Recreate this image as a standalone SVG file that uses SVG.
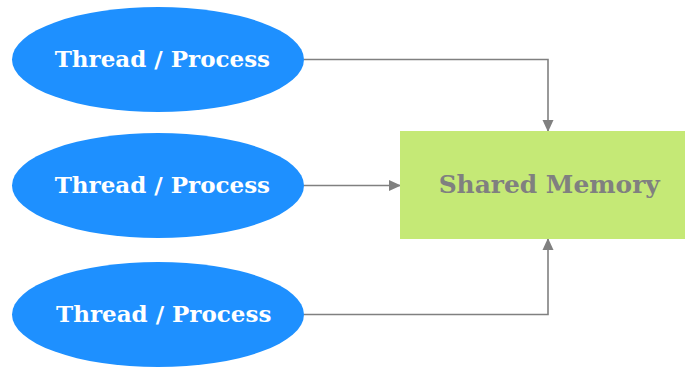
<svg xmlns="http://www.w3.org/2000/svg" width="685" height="367" viewBox="0 0 685 367">
<style>
.proc{fill:#1e90ff}
.pt{fill:#ffffff;font-family:"DejaVu Serif",serif;font-weight:bold;font-size:23px;text-anchor:middle}
.mem{fill:#c5e976}
.mt{fill:#808080;font-family:"DejaVu Serif",serif;font-weight:bold;font-size:24.9px;text-anchor:middle}
.edge{fill:none;stroke:#808080;stroke-width:1.6}
</style>
<defs>
<marker id="ah" markerWidth="12" markerHeight="12" refX="11" refY="6" orient="auto" markerUnits="userSpaceOnUse">
<path d="M0,0.5 L12,6 L0,11.5 Z" fill="#808080"/>
</marker>
</defs>
<rect width="685" height="367" fill="#ffffff"/>
<g id="edges">
<path class="edge" d="M304,59.5 H548 V131" marker-end="url(#ah)"/>
<path class="edge" d="M304,185.5 H400" marker-end="url(#ah)"/>
<path class="edge" d="M304,314.5 H548 V239" marker-end="url(#ah)"/>
</g>
<g id="p1"><ellipse class="proc" cx="158" cy="59.5" rx="146" ry="52.5"/><text class="pt" x="162.4" y="66.7">Thread / Process</text></g>
<g id="p2"><ellipse class="proc" cx="158" cy="185.5" rx="146" ry="52.5"/><text class="pt" x="162.4" y="192.7">Thread / Process</text></g>
<g id="p3"><ellipse class="proc" cx="158" cy="314.5" rx="146" ry="52.5"/><text class="pt" x="163.7" y="322.3">Thread / Process</text></g>
<g id="mem"><rect class="mem" x="400" y="131" width="285" height="108"/><text class="mt" x="549.2" y="192.6">Shared Memory</text></g>
</svg>
